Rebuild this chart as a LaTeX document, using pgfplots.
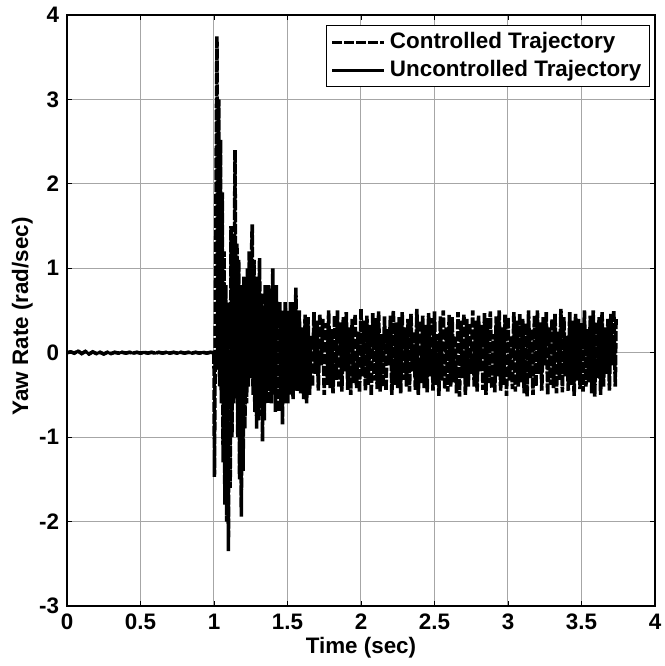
\documentclass[border=0pt]{standalone}
\usepackage{fontspec}
\setmainfont{Liberation Sans}
\usepackage{pgfplots}
\pgfplotsset{compat=1.18}
\begin{document}
\fontsize{11.2}{13}\selectfont\bfseries
\begin{tikzpicture}
\begin{axis}[
 at={(0,0)}, anchor=south west,
 scale only axis, width=294pt, height=295.5pt,
 xmin=0, xmax=4, ymin=-3, ymax=4,
 xtick={0,0.5,1,1.5,2,2.5,3,3.5,4}, ytick={-3,-2,-1,0,1,2,3,4},
 grid=major, major grid style={black!35, line width=0.5pt},
 tick align=inside, major tick length=2.5pt,
 axis line style={line width=0.6pt},
 every tick/.style={black, line width=0.4pt},
 /pgf/number format/assume math mode=true,
 ticklabel style={font=\fontsize{11.2}{13}\selectfont\bfseries},
 xlabel={Time (sec)}, ylabel={Yaw Rate (rad/sec)},
 xlabel style={at={(axis description cs:0.5,0)}, anchor=center, yshift=-21pt, font=\fontsize{11.2}{13}\selectfont\bfseries},
 ylabel style={at={(axis description cs:-0.076,0.49)}, anchor=center, font=\fontsize{11.2}{13}\selectfont\bfseries},
 legend style={at={(0.9915,0.983)}, anchor=north east, draw=black, line width=0.6pt, fill=white,
   font=\fontsize{11.2}{13}\selectfont\bfseries, inner xsep=2pt, inner ysep=1.5pt, row sep=0pt,
   nodes={inner xsep=2pt, inner ysep=2pt}},
 legend cell align=left,
 legend image code/.code={\draw[#1] (0pt,0pt) -- (26pt,0pt);},
]
\addplot[black, line width=1.8pt, dash pattern=on 5pt off 1pt] coordinates {
(0,0) (0.025,0.01) (0.05,-0.005) (0.075,0.02) (0.1,-0.01) (0.125,0.015) (0.15,-0.015) (0.175,0.01)
(0.2,-0.01) (0.225,0.005) (0.25,-0.015) (0.275,0.005) (0.3,-0.01) (0.325,0.005) (0.35,-0.005) (0.375,0.005)
(0.4,-0.005) (0.425,0.005) (0.45,-0.005) (0.475,0.005) (0.5,-0.005) (0.525,0.005) (0.55,-0.005) (0.575,0.005)
(0.6,-0.005) (0.625,0.005) (0.65,-0.005) (0.675,0.005) (0.7,-0.005) (0.725,0.005) (0.75,-0.005) (0.775,0.005)
(0.8,-0.005) (0.825,0.005) (0.85,-0.005) (0.875,0.005) (0.9,-0.005) (0.925,0.005) (0.95,-0.005) (0.975,0.005)
(1.000,0.0) (1.003,-1.47) (1.020,3.75) (1.026,-0.2) (1.032,3.0) (1.038,-0.4) (1.044,2.52) (1.050,-0.6)
(1.056,1.9) (1.062,-1.3) (1.068,1.2) (1.074,-1.8) (1.080,0.8) (1.086,-2.0) (1.092,0.5) (1.098,-2.35)
(1.104,0.6) (1.110,-1.6) (1.116,1.5) (1.122,-1.0) (1.128,1.4) (1.134,-0.6) (1.143,2.4) (1.150,-0.5)
(1.156,1.3) (1.162,-1.0) (1.168,1.1) (1.174,-1.5) (1.180,0.8) (1.186,-1.94) (1.192,0.5) (1.198,-1.4)
(1.204,0.9) (1.210,-0.9) (1.216,0.7) (1.222,-0.6) (1.228,1.0) (1.234,-0.4) (1.240,1.2) (1.246,-0.3)
(1.252,0.9) (1.260,1.52) (1.266,-0.5) (1.272,1.1) (1.278,-0.7) (1.284,0.9) (1.290,-0.9) (1.296,0.6)
(1.302,-0.8) (1.310,1.12) (1.316,-0.6) (1.322,0.7) (1.330,-1.05) (1.336,0.4) (1.342,-0.8) (1.348,0.8)
(1.354,-0.5) (1.360,0.6) (1.366,-0.6) (1.372,0.8) (1.378,-0.4) (1.384,0.7) (1.390,-0.6) (1.400,1.0)
(1.406,-0.5) (1.412,0.6) (1.418,-0.7) (1.424,0.8) (1.430,-0.5) (1.436,0.5) (1.442,-0.7) (1.448,0.6)
(1.454,-0.6) (1.460,0.4) (1.466,-0.85) (1.472,0.5) (1.478,-0.6) (1.484,0.6) (1.490,-0.5) (1.496,0.4)
(1.502,-0.6) (1.508,0.5) (1.514,-0.4) (1.520,0.6) (1.526,-0.5) (1.532,0.45) (1.538,-0.55) (1.544,0.6)
(1.550,-0.4) (1.557,0.77) (1.564,-0.45)
(1.57,-0.35) (1.58,0.50) (1.59,-0.48) (1.60,0.30) (1.61,-0.55) (1.62,0.45) (1.63,-0.60) (1.64,0.42)
(1.65,-0.50) (1.66,0.20) (1.67,-0.40) (1.68,0.48) (1.69,-0.25) (1.70,0.38) (1.71,-0.45) (1.72,0.46)
(1.73,-0.15) (1.74,0.40) (1.75,-0.50) (1.76,0.35) (1.77,-0.38) (1.78,0.50) (1.79,-0.42) (1.80,0.28)
(1.81,-0.48) (1.82,0.44) (1.83,-0.32) (1.84,0.50) (1.85,-0.40) (1.86,0.36) (1.87,-0.46) (1.88,0.42)
(1.89,-0.22) (1.90,0.48) (1.91,-0.44) (1.92,0.30) (1.93,-0.50) (1.94,0.40) (1.95,-0.36) (1.96,0.46)
(1.97,-0.42) (1.98,0.25) (1.99,-0.47) (2.00,0.52) (2.01,-0.28) (2.02,0.38) (2.03,-0.45) (2.04,0.44)
(2.05,-0.38) (2.06,0.33) (2.07,-0.51) (2.08,0.47) (2.09,-0.33) (2.10,0.41) (2.11,-0.43) (2.12,0.49)
(2.13,-0.46) (2.14,0.22) (2.15,-0.40) (2.16,0.43)
(2.17,-0.45) (2.18,0.28) (2.19,-0.15) (2.20,0.44) (2.21,-0.50) (2.22,0.50) (2.23,-0.38) (2.24,0.36)
(2.25,-0.42) (2.26,0.42) (2.27,-0.48) (2.28,0.48) (2.29,-0.32) (2.30,0.30) (2.31,-0.40) (2.32,0.40)
(2.33,-0.46) (2.34,0.46) (2.35,-0.22) (2.36,0.25) (2.37,-0.44) (2.38,0.52) (2.39,-0.50) (2.40,0.38)
(2.41,-0.36) (2.42,0.44) (2.43,-0.42) (2.44,0.33) (2.45,-0.47) (2.46,0.47) (2.47,-0.28) (2.48,0.41)
(2.49,-0.45) (2.50,0.49) (2.51,-0.38) (2.52,0.22) (2.53,-0.51) (2.54,0.43) (2.55,-0.33) (2.56,0.50)
(2.57,-0.43) (2.58,0.30) (2.59,-0.46) (2.60,0.45) (2.61,-0.40) (2.62,0.42) (2.63,-0.35) (2.64,0.20)
(2.65,-0.48) (2.66,0.48) (2.67,-0.52) (2.68,0.38) (2.69,-0.30) (2.70,0.46) (2.71,-0.50) (2.72,0.40)
(2.73,-0.40) (2.74,0.35) (2.75,-0.25) (2.76,0.50)
(2.77,-0.40) (2.78,0.38) (2.79,-0.46) (2.80,0.44) (2.81,-0.22) (2.82,0.33) (2.83,-0.44) (2.84,0.47)
(2.85,-0.50) (2.86,0.41) (2.87,-0.36) (2.88,0.49) (2.89,-0.42) (2.90,0.22) (2.91,-0.47) (2.92,0.43)
(2.93,-0.28) (2.94,0.50) (2.95,-0.45) (2.96,0.30) (2.97,-0.38) (2.98,0.45) (2.99,-0.51) (3.00,0.42)
(3.01,-0.33) (3.02,0.20) (3.03,-0.43) (3.04,0.48) (3.05,-0.46) (3.06,0.38) (3.07,-0.40) (3.08,0.46)
(3.09,-0.35) (3.10,0.40) (3.11,-0.48) (3.12,0.35) (3.13,-0.52) (3.14,0.50) (3.15,-0.30) (3.16,0.28)
(3.17,-0.50) (3.18,0.44) (3.19,-0.40) (3.20,0.50) (3.21,-0.25) (3.22,0.36) (3.23,-0.45) (3.24,0.42)
(3.25,-0.15) (3.26,0.48) (3.27,-0.50) (3.28,0.30) (3.29,-0.38) (3.30,0.40) (3.31,-0.42) (3.32,0.46)
(3.33,-0.48) (3.34,0.25) (3.35,-0.32) (3.36,0.52)
(3.37,-0.47) (3.38,0.42) (3.39,-0.28) (3.40,0.20) (3.41,-0.45) (3.42,0.48) (3.43,-0.38) (3.44,0.38)
(3.45,-0.51) (3.46,0.46) (3.47,-0.33) (3.48,0.40) (3.49,-0.43) (3.50,0.35) (3.51,-0.46) (3.52,0.50)
(3.53,-0.40) (3.54,0.28) (3.55,-0.35) (3.56,0.44) (3.57,-0.48) (3.58,0.50) (3.59,-0.52) (3.60,0.36)
(3.61,-0.30) (3.62,0.42) (3.63,-0.50) (3.64,0.48) (3.65,-0.40) (3.66,0.30) (3.67,-0.25) (3.68,0.40)
(3.69,-0.45) (3.70,0.46) (3.71,-0.15) (3.72,0.50) (3.73,-0.40) (3.735,0.42)
};
\addlegendentry{Controlled Trajectory}
\addplot[black, line width=1.5pt] coordinates {
(0,0) (0.025,0.01) (0.05,-0.005) (0.075,0.02) (0.1,-0.01) (0.125,0.015) (0.15,-0.015) (0.175,0.01)
(0.2,-0.01) (0.225,0.005) (0.25,-0.015) (0.275,0.005) (0.3,-0.01) (0.325,0.005) (0.35,-0.005) (0.375,0.005)
(0.4,-0.005) (0.425,0.005) (0.45,-0.005) (0.475,0.005) (0.5,-0.005) (0.525,0.005) (0.55,-0.005) (0.575,0.005)
(0.6,-0.005) (0.625,0.005) (0.65,-0.005) (0.675,0.005) (0.7,-0.005) (0.725,0.005) (0.75,-0.005) (0.775,0.005)
(0.8,-0.005) (0.825,0.005) (0.85,-0.005) (0.875,0.005) (0.9,-0.005) (0.925,0.005) (0.95,-0.005) (0.975,0.005)
(1.0,0.0)
};
\addlegendentry{Uncontrolled Trajectory}
\end{axis}
\pgfresetboundingbox
\path[use as bounding box] (-33.5pt,-30pt) rectangle (299pt,303pt);
\end{tikzpicture}
\end{document}
